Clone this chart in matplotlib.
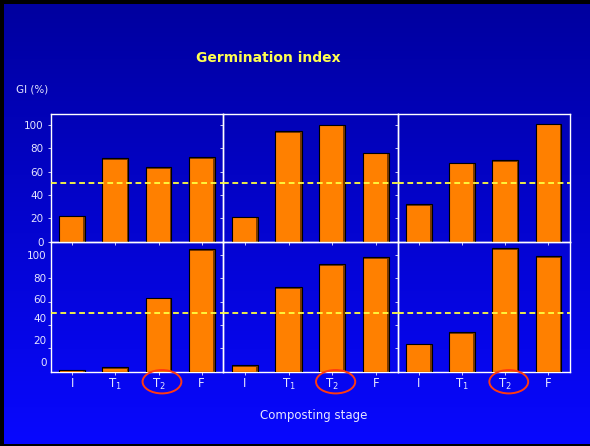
import numpy as np
import matplotlib
matplotlib.use("Agg")
import matplotlib.pyplot as plt
import matplotlib.transforms as mtransforms
from matplotlib.patches import Ellipse, Rectangle

# Germination index (%) per composting stage, one list per panel
stages = ["I", r"T$_1$", r"T$_2$", "F"]
gi_top_left = [22, 71.5, 63.7, 72.3]
gi_top_mid = [21.2, 94.6, 100.3, 76]
gi_top_right = [32, 67.7, 69.7, 101]
gi_bot_left = [1.5, 3.7, 63.4, 105]
gi_bot_mid = [5.5, 72.3, 92, 98]
gi_bot_right = [24, 33.8, 105.7, 98.9]
threshold = 50
y_ticks = [0, 20, 40, 60, 80, 100]
y_tick_labels = ["0", "20", "40", "60", "80", "100"]
# the lower row prints its scale slightly compressed
bot_label_pos = [8.6, 27.2, 45.7, 62.3, 80.5, 100]

W, H = 590, 446
fig = plt.figure(figsize=(W / 100, H / 100), dpi=100)
fig.patch.set_facecolor("#0000A0")

# vertical blue gradient background
bg = fig.add_axes([0, 0, 1, 1], zorder=-10)
grad = np.linspace(0, 1, 256)[:, None]
top_c = np.array([0.0, 0.0, 0.62])
bot_c = np.array([0.03, 0.03, 1.0])
img = top_c[None, None, :] * (1 - grad[..., None]) + bot_c[None, None, :] * grad[..., None]
img = np.repeat(img, 2, axis=1)
bg.imshow(img, aspect="auto", extent=[0, 1, 0, 1], origin="upper")
bg.set_xlim(0, 1)
bg.set_ylim(0, 1)
bg.axis("off")

# dark frame on top, left and bottom
for (x, y, w, h) in [(0, 1 - 4 / H, 1, 4 / H), (0, 0, 4 / W, 1), (0, 0, 1, 2 / H)]:
    fig.patches.append(Rectangle((x, y), w, h, transform=fig.transFigure,
                                 facecolor="black", edgecolor="none", zorder=5))


def px_rect(x0, y0, x1, y1):
    return [x0 / W, 1 - y1 / H, (x1 - x0) / W, (y1 - y0) / H]


col_edges = [50.7, 223.2, 397.5, 570]
row_edges = [(113.5, 241.7), (241.7, 371.7)]
px_per_unit = 1.167

data = [[gi_top_left, gi_top_mid, gi_top_right],
        [gi_bot_left, gi_bot_mid, gi_bot_right]]

tick_col = "#E6E6FF"
x = np.arange(len(stages))
bw = 0.6

for r, (y0, y1) in enumerate(row_edges):
    for c in range(3):
        ax = fig.add_axes(px_rect(col_edges[c], y0, col_edges[c + 1], y1))
        ax.set_facecolor("none")
        vals = np.array(data[r][c])
        # shaded body, lighter face, then outline
        ax.bar(x, vals, bw, color="#7a3a00", linewidth=0, zorder=2)
        ax.bar(x - 0.02, np.maximum(vals - 1.2, 0), bw - 0.04,
               color="#FF8000", linewidth=0, zorder=3)
        ax.bar(x, vals, bw, facecolor="none", edgecolor="black",
               linewidth=0.8, zorder=4)
        ax.axhline(threshold, color="#FFFF40", linewidth=1.3,
                   dashes=(3.2, 2.0), zorder=5, clip_on=False)
        ax.set_xlim(-0.5, 3.5)
        ax.set_ylim(0, (y1 - y0) / px_per_unit)
        for s in ax.spines.values():
            s.set_color("white")
            s.set_linewidth(1.0)
        ax.set_xticks(x)
        ax.tick_params(axis="both", direction="out", length=2, width=0.6,
                       color=tick_col, labelcolor=tick_col)
        if r == 1:
            ax.set_xticklabels(stages, fontsize=8.5)
            ax.tick_params(axis="x", pad=1.5)
            # ring around the T2 stage label
            trans = mtransforms.blended_transform_factory(ax.transData, ax.transAxes)
            ax.add_patch(Ellipse((2.08, -0.077), 0.9, 0.18, transform=trans,
                                 fill=False, edgecolor="#FF3A10", linewidth=1.4,
                                 clip_on=False, zorder=6))
        else:
            ax.set_xticklabels([])
        if c == 0:
            if r == 0:
                ax.set_yticks(y_ticks)
                ax.set_yticklabels(y_tick_labels, fontsize=7.5)
            else:
                ax.set_yticks(bot_label_pos)
                ax.set_yticklabels(y_tick_labels, fontsize=7.5)
                ax.tick_params(axis="y", length=0)
                ax.set_yticks(y_ticks[1:], minor=True)
                ax.tick_params(axis="y", which="minor", direction="out",
                               length=2, width=0.6, color=tick_col)
            ax.tick_params(axis="y", pad=3)
        else:
            ax.set_yticks(y_ticks)
            ax.set_yticklabels([])

fig.text(268 / W, 1 - 57.7 / H, "Germination index", color="#FFFF50",
         fontsize=10, fontweight="bold", ha="center", va="center")
fig.text(16.5 / W, 1 - 90 / H, "GI (%)", color="#E6E6FF",
         fontsize=7.5, ha="left", va="center")
fig.text(314 / W, 1 - 415.7 / H, "Composting stage", color="#E6E6FF",
         fontsize=8.5, ha="center", va="center")

fig.savefig("out.png", dpi=100, facecolor=fig.get_facecolor())
